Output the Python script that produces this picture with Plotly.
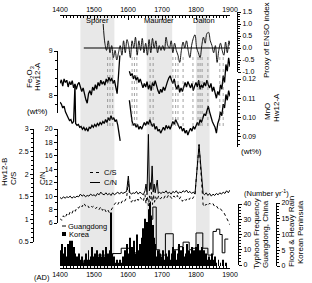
import plotly.graph_objects as go

# ---------------- DATA ----------------
year_ticks = [1400, 1500, 1600, 1700, 1800, 1900]
minimum_names = ["Spörer", "Maunder", "Dalton"]
minimum_start = [1460, 1655, 1800]
minimum_end = [1560, 1730, 1840]
minimum_label_year = [1511, 1690, 1823]

event_years = [1540, 1547, 1555, 1612, 1619, 1626, 1665, 1674, 1732, 1740,
               1747, 1762, 1791, 1806, 1812, 1818, 1835, 1870, 1880]

enso_years = [1527, 1532, 1537, 1542, 1547, 1552, 1557, 1562, 1567, 1572, 1577, 1582,
              1587, 1592, 1597, 1602, 1607, 1612, 1617, 1622, 1627, 1632, 1637, 1642,
              1647, 1652, 1657, 1662, 1667, 1672, 1677, 1682, 1687, 1692, 1697, 1702,
              1707, 1712, 1717, 1722, 1727, 1732, 1737, 1742, 1747, 1752, 1757, 1762,
              1767, 1772, 1777, 1782, 1787, 1792, 1797, 1802, 1807, 1812, 1817, 1822,
              1827, 1832, 1837, 1842, 1847, 1852, 1857, 1862, 1867, 1872, 1877, 1882,
              1887, 1892, 1897, 1900]
enso_vals = [1.0, 0.2, -0.1, 0.3, -0.2, 0.1, -0.4, -0.1, -0.5, -0.2, 0.1, -0.3,
             0.3, -0.2, 0.35, 0.1, -0.4, 0.3, 0.0, 0.45, -0.3, 0.3, -0.1, 0.4,
             -0.2, 0.2, -0.3, 0.35, -0.2, 0.4, 0.0, 0.3, -0.2, 0.1, -0.1, 0.1,
             -0.1, 0.45, 0.1, 0.0, 0.3, -0.2, 0.2, -0.1, -0.3, -0.6, -0.1, 0.25,
             0.0, 0.3, -0.1, -0.4, 0.1, 0.4, 0.55, 0.0, -0.2, -0.4, 0.1, 0.45,
             0.2, 0.6, 0.65, 0.3, 0.1, -0.2, 0.1, -0.6, -0.1, 0.2, -0.1, -0.3,
             0.25, -0.2, 0.3, 0.1]
enso_zero_span = [1470, 1900]

fe_years_a = list(range(1400, 1577, 4))
fe_vals_a = [8.28, 8.36, 8.22, 8.38, 8.30, 8.35, 8.20, 8.32, 8.25, 8.34, 8.18, 8.27,
             8.15, 8.26, 8.30, 8.22, 8.10, 8.18, 8.02, 7.92, 7.84, 8.05, 8.12, 8.02,
             8.20, 8.12, 8.25, 8.15, 8.30, 8.22, 8.35, 8.26, 8.32, 8.24, 8.38, 8.30,
             8.42, 8.33, 8.40, 8.28, 8.35, 8.20, 8.05, 8.45, 8.90]
fe_years_b = list(range(1604, 1901, 4))
fe_vals_b = [8.55, 8.45, 8.50, 8.38, 8.46, 8.35, 8.42, 8.30, 8.38, 8.25, 8.18, 8.28,
             8.20, 8.32, 8.15, 8.25, 8.12, 8.30, 8.22, 8.34, 8.20, 8.12, 8.05, 8.15,
             8.08, 8.20, 8.12, 8.25, 8.32, 8.40, 8.45, 8.35, 8.28, 8.38, 8.22, 8.15,
             8.25, 8.08, 8.18, 8.10, 8.22, 8.30, 8.20, 8.32, 8.25, 8.18, 8.28, 8.12,
             8.22, 8.30, 8.20, 8.35, 8.15, 8.25, 8.18, 8.30, 8.22, 8.35, 8.25, 8.18,
             8.28, 8.10, 8.20, 8.05, 7.95, 8.10, 8.02, 8.25, 8.15, 8.45, 8.30, 8.70,
             8.55, 8.85, 8.65]

mn_years_a = [1400, 1404, 1408, 1412, 1416, 1420, 1424, 1428, 1432, 1436, 1440, 1444,
              1446, 1450, 1454, 1458, 1462, 1466, 1470, 1474, 1478, 1482, 1486, 1490,
              1494, 1498, 1502, 1506, 1510, 1514, 1518, 1522, 1526, 1530, 1534, 1538,
              1542, 1546, 1550, 1554, 1558, 1562, 1566, 1570, 1574, 1577]
mn_vals_a = [0.108, 0.107, 0.105, 0.106, 0.103, 0.101, 0.100, 0.0985, 0.099, 0.097,
             0.098, 0.117, 0.097, 0.096, 0.0965, 0.095, 0.0955, 0.094, 0.095, 0.0935,
             0.0945, 0.093, 0.095, 0.0945, 0.096, 0.095, 0.0965, 0.0955, 0.097, 0.096,
             0.0975, 0.0965, 0.098, 0.097, 0.099, 0.0975, 0.100, 0.0985, 0.101, 0.099,
             0.100, 0.098, 0.099, 0.096, 0.091, 0.088]
mn_years_b = list(range(1604, 1901, 4))
mn_vals_b = [0.109, 0.104, 0.098, 0.096, 0.097, 0.095, 0.0965, 0.094, 0.0955, 0.094,
             0.096, 0.0975, 0.096, 0.098, 0.0965, 0.099, 0.097, 0.0955, 0.097, 0.094,
             0.0955, 0.093, 0.094, 0.092, 0.0935, 0.095, 0.0935, 0.096, 0.0945, 0.0955,
             0.094, 0.096, 0.098, 0.0965, 0.099, 0.0975, 0.096, 0.0945, 0.0955, 0.093,
             0.0945, 0.092, 0.0935, 0.091, 0.093, 0.0945, 0.093, 0.0955, 0.094, 0.096,
             0.0975, 0.096, 0.099, 0.0975, 0.100, 0.102, 0.101, 0.104, 0.106, 0.103,
             0.100, 0.098, 0.0965, 0.095, 0.092, 0.097, 0.099, 0.103, 0.101, 0.107,
             0.105, 0.112, 0.109, 0.114, 0.111]

cn_years = [1400, 1405, 1410, 1415, 1420, 1425, 1430, 1435, 1440, 1445, 1450, 1455,
            1460, 1465, 1470, 1475, 1480, 1485, 1490, 1495, 1500, 1505, 1510, 1515,
            1520, 1525, 1530, 1535, 1540, 1545, 1550, 1555, 1560, 1565, 1570, 1575,
            1580, 1585, 1590, 1596, 1601, 1605, 1610, 1615, 1620, 1625, 1630, 1635,
            1640, 1645, 1650, 1653, 1656, 1660, 1663, 1666, 1668, 1671, 1674, 1677,
            1680, 1683, 1686, 1689, 1692, 1697, 1702, 1707, 1712, 1717, 1722, 1727,
            1732, 1737, 1742, 1747, 1752, 1757, 1762, 1767, 1772, 1777, 1782, 1787,
            1792, 1797, 1809, 1821, 1825, 1830, 1835, 1840, 1845, 1850, 1855, 1860,
            1865, 1870, 1875, 1880, 1885, 1890, 1895, 1900]
cn_vals = [9.8, 9.6, 9.9, 9.7, 9.9, 9.8, 10.0, 9.7, 9.9, 9.8, 10.0, 9.9,
           10.3, 10.0, 10.2, 9.9, 10.1, 10.0, 10.3, 10.1, 10.2, 10.0, 10.4, 10.2,
           10.6, 10.3, 10.2, 10.5, 10.2, 10.4, 10.1, 10.5, 10.2, 10.4, 10.6, 10.3,
           10.6, 10.4, 10.5, 10.7, 13.0, 10.6, 10.3, 10.5, 10.4, 10.7, 10.3, 10.6,
           10.4, 10.2, 10.8, 11.8, 10.5, 19.2, 10.8, 12.0, 11.0, 14.5, 10.6, 11.8,
           10.5, 11.2, 12.4, 10.4, 10.6, 10.4, 10.6, 10.5, 10.8, 10.4, 10.6, 10.3,
           10.7, 10.5, 10.8, 10.4, 10.6, 10.5, 10.8, 10.6, 10.9, 10.5, 10.7, 10.4,
           10.6, 10.3, 17.6, 10.4, 10.2, 10.5, 10.1, 10.4, 10.0, 10.3, 10.1, 10.4,
           10.2, 10.5, 10.3, 10.6, 10.4, 10.8, 10.5, 10.9]

cs_years = [1400, 1405, 1410, 1415, 1420, 1425, 1430, 1435, 1440, 1445, 1450, 1455,
            1460, 1465, 1470, 1475, 1480, 1485, 1490, 1495, 1500, 1505, 1510, 1515,
            1520, 1525, 1530, 1535, 1540, 1545, 1550, 1555, 1560, 1565, 1570, 1575,
            1580, 1585, 1590, 1596, 1601, 1606, 1610, 1615, 1620, 1625, 1630, 1635,
            1640, 1645, 1650, 1653, 1656, 1660, 1663, 1666, 1669, 1672, 1675, 1678,
            1681, 1685, 1690, 1695, 1700, 1705, 1710, 1715, 1720, 1725, 1730, 1735,
            1740, 1745, 1750, 1755, 1760, 1765, 1770, 1775, 1780, 1785, 1790, 1797,
            1809, 1821, 1825, 1830, 1835, 1840, 1845, 1850, 1855, 1860, 1865, 1870,
            1875, 1880, 1885, 1890, 1895, 1900]
cs_vals = [1.02, 0.98, 1.08, 1.03, 1.12, 1.08, 1.17, 1.13, 1.22, 1.18, 1.27, 1.25,
           1.32, 1.28, 1.36, 1.30, 1.33, 1.26, 1.31, 1.27, 1.30, 1.24, 1.28, 1.22,
           1.28, 1.20, 1.25, 1.17, 1.22, 1.15, 1.20, 1.28, 1.33, 1.38, 1.33, 1.40,
           1.36, 1.43, 1.40, 1.48, 1.85, 1.42, 1.38, 1.45, 1.40, 1.47, 1.42, 1.50,
           1.44, 1.40, 1.55, 1.35, 1.58, 1.30, 1.52, 1.36, 1.60, 1.33, 1.55, 1.38,
           1.50, 1.42, 1.52, 1.45, 1.50, 1.46, 1.53, 1.48, 1.55, 1.50, 1.45, 1.52,
           1.47, 1.53, 1.44, 1.50, 1.40, 1.46, 1.42, 1.48, 1.44, 1.50, 1.46, 1.55,
           2.66, 1.32, 1.28, 1.34, 1.30, 1.36, 1.32, 1.35, 1.28, 1.30, 1.24, 1.26,
           1.20, 1.18, 1.10, 1.04, 0.95, 0.88]

typhoon_start = [1400, 1470, 1510, 1555, 1580, 1605, 1635, 1655, 1663, 1673, 1683,
                 1693, 1710, 1733, 1748, 1762, 1780, 1790, 1800, 1820, 1835, 1850,
                 1860, 1870, 1877, 1885]
typhoon_vals = [0, 3, 6.5, 7.5, 11, 8, 6, 14, 30, 38, 10,
                6.5, 20.5, 10, 12, 15, 10, 11, 21, 11, 6.5, 22,
                23.5, 20, 8, 17]
typhoon_end = 1895

korea_years = [1401, 1403, 1405, 1407, 1409, 1411, 1413, 1415, 1417, 1419, 1421, 1423,
               1425, 1427, 1429, 1431, 1433, 1435, 1437, 1439, 1441, 1443, 1445, 1447,
               1450, 1453, 1456, 1460, 1464, 1468, 1472, 1476, 1480, 1484, 1487, 1490,
               1493, 1496, 1499, 1502, 1505, 1508, 1511, 1514, 1517, 1520, 1524, 1527,
               1530, 1533, 1536, 1539, 1542, 1545, 1548, 1550, 1553, 1556, 1560, 1564,
               1568, 1572, 1577, 1582, 1586, 1590, 1593, 1596, 1599, 1602, 1605, 1608,
               1611, 1614, 1617, 1620, 1623, 1626, 1629, 1632, 1635, 1638, 1641, 1643,
               1645, 1647, 1649, 1651, 1653, 1655, 1657, 1659, 1661, 1663, 1665, 1667,
               1669, 1671, 1673, 1675, 1677, 1679, 1681, 1684, 1687, 1690, 1693, 1697,
               1700, 1704, 1707, 1711, 1714, 1718, 1721, 1725, 1728, 1732, 1735, 1739,
               1742, 1746, 1749, 1752, 1756, 1759, 1763, 1766, 1770, 1773, 1776, 1780,
               1783, 1786, 1789, 1792, 1795, 1798, 1801, 1803, 1806, 1809, 1812, 1815,
               1818, 1821, 1824, 1827, 1830, 1834, 1838, 1842, 1846, 1850, 1855, 1860,
               1866, 1872, 1880, 1888]
korea_vals = [5, 2, 7, 3, 2, 4, 2, 6, 2, 3, 2, 7,
              2, 4, 8, 3, 5, 8, 3, 2, 6, 2, 4, 2,
              3, 1, 4, 2, 3, 1, 2, 4, 2, 5, 2, 3,
              6, 2, 3, 4, 2, 5, 3, 2, 4, 1, 3, 5,
              2, 3, 6, 2, 4, 3, 5, 17, 4, 2, 3, 1,
              2, 1, 2, 1, 3, 5, 2, 7, 3, 4, 9, 3,
              6, 2, 8, 4, 3, 10, 5, 3, 7, 4, 9, 5,
              12, 6, 15, 8, 11, 6, 14, 9, 18, 12, 20, 10,
              16, 8, 13, 6, 9, 4, 7, 3, 5, 2, 4, 2,
              3, 5, 2, 4, 2, 3, 5, 2, 4, 6, 3, 5,
              2, 4, 7, 3, 5, 2, 6, 3, 4, 7, 3, 5,
              2, 4, 6, 3, 5, 4, 6, 3, 7, 4, 5, 3,
              6, 4, 5, 3, 4, 2, 3, 2, 4, 2, 3, 1,
              2, 1, 2, 1]

# ---------------- LAYOUT HELPERS ----------------
W, H = 312, 283
FONT = "Liberation Sans, Arial, sans-serif"


def fx(p):
    return p / W


def fy(p):
    return 1 - p / H


fig = go.Figure()

fig.add_trace(go.Scatter(x=enso_years, y=enso_vals, mode="lines", yaxis="y",
                         line=dict(color="black", width=0.9, shape="spline", smoothing=1.0)))
fig.add_trace(go.Scatter(x=enso_zero_span, y=[0, 0], mode="lines", yaxis="y",
                         line=dict(color="black", width=1)))
fig.add_trace(go.Scatter(x=fe_years_a + [None] + fe_years_b, y=fe_vals_a + [None] + fe_vals_b,
                         mode="lines", yaxis="y2", connectgaps=False,
                         line=dict(color="black", width=1.3)))
fig.add_trace(go.Scatter(x=mn_years_a + [None] + mn_years_b, y=mn_vals_a + [None] + mn_vals_b,
                         mode="lines", yaxis="y3", connectgaps=False,
                         line=dict(color="black", width=1.3)))
fig.add_trace(go.Scatter(x=cs_years, y=cs_vals, mode="lines", yaxis="y4",
                         line=dict(color="black", width=1, dash="dot")))
fig.add_trace(go.Scatter(x=cn_years, y=cn_vals, mode="lines", yaxis="y5",
                         line=dict(color="black", width=1)))
fig.add_trace(go.Scatter(x=typhoon_start + [typhoon_end], y=typhoon_vals + [typhoon_vals[-1]],
                         mode="lines", yaxis="y6", line=dict(color="black", width=1, shape="hv")))
fig.add_trace(go.Bar(x=korea_years, y=korea_vals, yaxis="y7", width=2.6,
                     marker=dict(color="black", line=dict(width=0))))
fig.add_trace(go.Scatter(x=[year_ticks[0]], y=[0], xaxis="x2", yaxis="y", mode="markers",
                         marker=dict(opacity=0), hoverinfo="skip"))

tickfont = dict(family=FONT, size=7, color="black")
base = dict(showline=True, linecolor="black", linewidth=1, showgrid=False, zeroline=False,
            ticks="outside", ticklen=3, tickwidth=1, tickcolor="black", tickfont=tickfont,
            automargin=False, fixedrange=True, anchor="free")


def yax(dom, rng, pos, side, tick0, dtick, minor, **kw):
    d = dict(base)
    d.update(domain=[fy(dom[1]), fy(dom[0])], range=rng, position=fx(pos), side=side,
             tickmode="linear", tick0=tick0, dtick=dtick,
             minor=dict(dtick=minor, ticklen=1.8, ticks="outside", tickcolor="black", tickwidth=0.8))
    d.update(kw)
    return d


xbase = dict(base)
xbase.update(domain=[fx(60), fx(230)], range=[1400, 1900], tickmode="linear", tick0=1400, dtick=100,
             ticks="inside", ticklen=3.5,
             minor=dict(dtick=10, ticklen=2, ticks="inside", tickcolor="black", tickwidth=0.8))
xtop = dict(xbase)
xtop.update(side="top", position=fy(15), overlaying="x")
xbot = dict(xbase)
xbot.update(position=fy(268))

enso_ticks = [-1.0, -0.5, 0.0, 0.5, 1.0, 1.5]
fig.update_layout(
    width=W, height=H, margin=dict(l=0, r=0, t=0, b=0),
    paper_bgcolor="white", plot_bgcolor="rgba(0,0,0,0)", showlegend=False,
    font=dict(family=FONT, size=8, color="black"),
    xaxis=xbot, xaxis2=xtop,
    yaxis=yax((12, 72), [-1.0, 1.5], 237, "right", -1.0, 0.5, 0.1,
              tickmode="array", tickvals=enso_ticks,
              ticktext=[f"{v:.1f}" for v in enso_ticks]),
    yaxis2=yax((51, 113), [7.622, 9], 57, "left", 8, 1, 0.2),
    yaxis3=yax((79, 147), [0.08482, 0.12], 237, "right", 0.09, 0.01, 0.002, tickformat=".2f"),
    yaxis4=yax((129, 242), [0.5, 3], 33, "left", 0.5, 0.5, 0.1),
    yaxis5=yax((129, 223), [6, 20], 57, "left", 6, 2, 1),
    yaxis6=yax((204, 265), [0, 40], 238, "right", 0, 10, 2),
    yaxis7=yax((203, 266), [0, 20], 276, "right", 0, 5, 1),
)

shapes = []
for s, e in zip(minimum_start, minimum_end):
    shapes.append(dict(type="rect", xref="x", yref="paper", x0=s, x1=e, y0=fy(268), y1=fy(15),
                       fillcolor="#e8e8e8", line=dict(width=0), layer="below"))
for yr in event_years:
    shapes.append(dict(type="line", xref="x", yref="paper", x0=yr, x1=yr, y0=fy(126), y1=fy(54),
                       line=dict(color="#666666", width=0.6, dash="dot"), layer="above"))
shapes.append(dict(type="line", xref="paper", yref="paper", x0=fx(90), x1=fx(100), y0=fy(172.5), y1=fy(172.5),
                   line=dict(color="black", width=1, dash="dot")))
shapes.append(dict(type="line", xref="paper", yref="paper", x0=fx(90), x1=fx(100), y0=fy(182.5), y1=fy(182.5),
                   line=dict(color="black", width=1)))
shapes.append(dict(type="line", xref="paper", yref="paper", x0=fx(62), x1=fx(66), y0=fy(226), y1=fy(226),
                   line=dict(color="black", width=1)))
shapes.append(dict(type="rect", xref="paper", yref="paper", x0=fx(62), x1=fx(66), y0=fy(236), y1=fy(232),
                   fillcolor="black", line=dict(width=0)))
fig.update_layout(shapes=shapes)

ann = []


def text(t, x, y, angle=0, size=8, xanchor="center"):
    ann.append(dict(text=t, x=fx(x), y=fy(y), xref="paper", yref="paper", showarrow=False,
                    textangle=angle, xanchor=xanchor, yanchor="middle",
                    font=dict(family=FONT, size=size, color="black")))


for name, yr in zip(minimum_names, minimum_label_year):
    ann.append(dict(text=name, x=yr, y=fy(21), xref="x", yref="paper", showarrow=False,
                    xanchor="center", yanchor="middle", font=dict(family=FONT, size=7.5, color="black")))
text("(AD)", 42, 277, size=7.5)
text("Proxy of ENSO index", 266, 40, -90)
text("MnO", 268, 112, -90)
text("Hw12-A", 276, 108, -90)
text("(wt%)", 251, 151)
text("Fe<sub>2</sub>O<sub>3</sub>", 30, 77, -90)
text("Hw12-A", 38, 77, -90)
text("(wt%)", 37, 111)
text("Hw12-B", 4, 172, -90)
text("C/S", 13, 179, -90)
text("C/N", 42, 178, -90)
text("C/S", 102, 172.5, size=7.5, xanchor="left")
text("C/N", 102, 182.5, size=7.5, xanchor="left")
text("Guangdong", 66, 226, size=7.5, xanchor="left")
text("Korea", 67, 234, size=7.5, xanchor="left")
text("(Number yr<sup>-1</sup>)", 266, 193, size=7.5)
text("Typhoon Frequency", 256, 234, -90)
text("Guangdong, China", 265, 234, -90)
text("Flood & Heavy Rain", 291, 232, -90)
text("Korean Peninsula", 300, 232, -90)
fig.update_layout(annotations=ann)

fig.write_html("out.html")
